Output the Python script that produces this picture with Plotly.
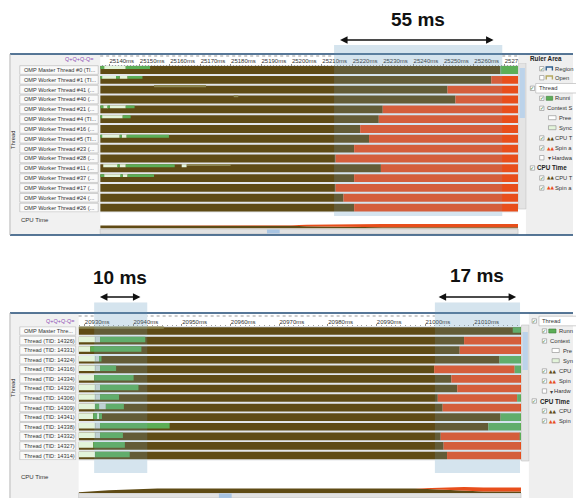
import plotly.graph_objects as go

# the page body has an 8px margin: the figure is sized/offset to fill the window
OFF = 8
W, H = 584 - OFF, 498 - OFF


def px(x):
    return (x - OFF) / W


def py(y):
    return 1 - (y - OFF) / H


# ---------------- DATA : top timeline (ms) ----------------
top_threads = [
    "OMP Master Thread #0 (TI...", "OMP Worker Thread #1 (TI...",
    "OMP Worker Thread #41 (...", "OMP Worker Thread #40 (...",
    "OMP Worker Thread #21 (...", "OMP Worker Thread #4 (TI...",
    "OMP Worker Thread #16 (...", "OMP Worker Thread #5 (TI...",
    "OMP Worker Thread #23 (...", "OMP Worker Thread #28 (...",
    "OMP Worker Thread #11 (...", "OMP Worker Thread #37 (...",
    "OMP Worker Thread #17 (...", "OMP Worker Thread #24 (...",
    "OMP Worker Thread #26 (...",
]
top_window = [25137.1, 25274.5]
top_ticks = list(range(25140, 25280, 10))
# time at which the CPU-time (brown) part ends for each thread
top_cpu_end = [25268.7, 25265.7, 25251.3, 25253.9, 25230.0, 25228.7, 25222.6,
               25225.5, 25220.6, 25214.5, 25229.4, 25220.6, 25214.5, 25217.1,
               25220.6]
# what follows: spin (red) or running (green)
top_tail = ["run", "spin", "spin", "spin", "spin", "spin", "spin", "spin",
            "spin", "spin", "spin", "spin", "spin", "spin", "spin"]
# running / synchronisation strips (row, start, end)
top_running = [
    (0, 25137.1, 25138.4), (0, 25145.5, 25153.5),
    (1, 25137.1, 25137.7), (1, 25142.3, 25143.5), (1, 25146.1, 25151.0),
    (4, 25137.1, 25138.1), (4, 25139.7, 25140.3), (4, 25145.5, 25148.4),
    (5, 25137.1, 25137.7), (5, 25144.5, 25147.1),
    (7, 25137.1, 25137.7), (7, 25143.5, 25144.2), (7, 25145.8, 25159.7),
    (10, 25142.9, 25143.5), (10, 25145.5, 25161.6),
    (11, 25137.1, 25138.4), (11, 25143.9, 25144.5), (11, 25146.1, 25154.8),
]
top_sync = [
    (0, 25138.4, 25145.5),
    (1, 25137.7, 25142.3), (1, 25143.5, 25146.1),
    (4, 25138.1, 25139.7), (4, 25140.3, 25145.5),
    (5, 25137.7, 25144.5),
    (7, 25137.7, 25143.5), (7, 25144.2, 25145.8),
    (10, 25138.1, 25142.9), (10, 25143.5, 25145.5), (10, 25163.9, 25165.5),
    (11, 25138.4, 25143.9), (11, 25144.5, 25146.1),
]
top_faint = [(2, 25154.8, 25171.9), (3, 25181.0, 25182.5), (10, 25165.5, 25180.0)]
top_cpu_t = [25137.1, 25190, 25200, 25205, 25215, 25230, 25274.5]
top_cpu_busy = [0.55, 0.55, 0.5, 0.4, 0.3, 0.25, 0.25]
top_cpu_spin = [0.0, 0.0, 0.1, 0.3, 0.45, 0.55, 0.55]
top_selection = [25214.0, 25269.3]

# ---------------- DATA : bottom timeline (ms) ----------------
bot_threads = [
    "OMP Master Thre...", "Thread (TID: 14326)", "Thread (TID: 14331)",
    "Thread (TID: 14324)", "Thread (TID: 14316)", "Thread (TID: 14334)",
    "Thread (TID: 14329)", "Thread (TID: 14306)", "Thread (TID: 14309)",
    "Thread (TID: 14341)", "Thread (TID: 14338)", "Thread (TID: 14332)",
    "Thread (TID: 14327)", "Thread (TID: 14314)",
]
bot_window = [20928.8, 21019.7]
bot_ticks = list(range(20930, 21020, 10))
bot_cpu_end = [21019.7, 21008.0, 21007.1, 21015.3, 21001.9, 21005.4, 21006.6,
               21002.6, 21003.6, 21015.5, 21013.0, 21003.2, 21003.8, 21004.5]
bot_spin = [
    (1, 21008.0, 21019.7), (2, 21007.1, 21019.7), (4, 21001.9, 21018.4),
    (5, 21005.4, 21019.7), (6, 21006.6, 21019.7), (7, 21002.6, 21018.9),
    (8, 21003.6, 21019.7), (11, 21003.2, 21019.5), (12, 21003.8, 21019.7),
    (13, 21004.5, 21019.7),
]
bot_run_tail = [
    (3, 21015.3, 21019.7), (4, 21018.4, 21019.7), (7, 21018.9, 21019.7),
    (9, 21015.5, 21019.7), (10, 21013.0, 21019.7), (11, 21019.5, 21019.7),
]
bot_sync = [
    (1, 20928.8, 20932.2), (2, 20928.8, 20931.2), (3, 20928.8, 20932.2),
    (4, 20928.8, 20932.2), (5, 20928.8, 20932.0), (6, 20928.8, 20932.2),
    (7, 20928.8, 20932.2), (8, 20928.8, 20932.2), (9, 20928.8, 20931.8),
    (9, 20932.6, 20933.0), (10, 20928.8, 20932.2), (11, 20928.8, 20932.2),
    (12, 20928.8, 20931.8), (13, 20928.8, 20932.2),
]
bot_preempt = [
    (1, 20932.2, 20933.2), (3, 20932.2, 20933.0), (4, 20932.2, 20933.2),
    (6, 20932.2, 20933.2), (7, 20932.2, 20933.2), (8, 20933.0, 20934.4),
    (10, 20932.2, 20933.2), (11, 20932.2, 20933.2),
]
bot_running = [
    (0, 21018.0, 21019.7),
    (1, 20933.2, 20942.5), (2, 20931.2, 20941.7), (3, 20933.0, 20933.5),
    (4, 20933.2, 20936.5), (5, 20932.0, 20940.1), (6, 20933.2, 20941.1),
    (7, 20933.2, 20937.1), (8, 20932.2, 20933.0), (8, 20934.4, 20938.1),
    (9, 20931.8, 20932.6), (9, 20933.0, 20933.6), (10, 20933.2, 20947.5),
    (11, 20933.2, 20937.9), (12, 20931.8, 20938.3), (13, 20932.2, 20939.3),
]
bot_faint = [(0, 20928.8, 20946.3)]
bot_cpu_t = [20928.8, 20935, 20945, 20998, 21003, 21008, 21012, 21019.7]
bot_cpu_busy = [0.1, 0.35, 0.55, 0.55, 0.45, 0.3, 0.2, 0.2]
bot_cpu_spin = [0.0, 0.0, 0.0, 0.0, 0.2, 0.45, 0.5, 0.5]
bot_selections = [[20932.0, 20942.9], [21002.0, 21019.5]]

# ---------------- styles ----------------
BROWN = "#5f4b15"
RED = "#e84e1b"
GREEN = "#5cae56"
SYNC = "#e3f4da"
FAINT = "#8c8450"
PREEMPT = "#cdd9d4"
NAVY = "#1f4a74"
UI_FONT = "Liberation Sans, Arial, sans-serif"
TXT = "#333333"
PANEL = "#efefef"

fig = go.Figure()


def bars(segs, color, xa, ya, width, offset):
    fig.add_trace(go.Bar(
        y=[s[0] for s in segs], base=[s[1] for s in segs],
        x=[s[2] - s[1] for s in segs], orientation="h",
        width=width, offset=offset,
        marker=dict(color=color, line=dict(width=0)),
        xaxis=xa, yaxis=ya, showlegend=False, hoverinfo="skip"))


# top panel bars
n_top = len(top_threads)
bars([(i, top_window[0], top_cpu_end[i]) for i in range(n_top)], BROWN, "x", "y", 0.8, -0.4)
bars([(i, top_cpu_end[i], top_window[1]) for i in range(n_top) if top_tail[i] == "spin"],
     RED, "x", "y", 0.8, -0.4)
bars([(i, top_cpu_end[i], top_window[1]) for i in range(n_top) if top_tail[i] == "run"],
     GREEN, "x", "y", 0.8, -0.4)
bars(top_faint, FAINT, "x", "y", 0.16, -0.4)
bars(top_sync, SYNC, "x", "y", 0.3, -0.4)
bars(top_running, GREEN, "x", "y", 0.3, -0.4)

# bottom panel bars
n_bot = len(bot_threads)
bars([(i, bot_window[0], bot_cpu_end[i]) for i in range(n_bot)], BROWN, "x2", "y2", 0.8, -0.4)
bars(bot_spin, RED, "x2", "y2", 0.8, -0.4)
bars(bot_run_tail, GREEN, "x2", "y2", 0.8, -0.4)
bars(bot_faint, FAINT, "x2", "y2", 0.16, -0.4)
bars(bot_sync, SYNC, "x2", "y2", 0.58, -0.4)
bars(bot_preempt, PREEMPT, "x2", "y2", 0.58, -0.4)
bars(bot_running, GREEN, "x2", "y2", 0.58, -0.4)

# CPU time area charts
for t, busy, spin, xa, ya, grp in [
        (top_cpu_t, top_cpu_busy, top_cpu_spin, "x", "y3", "a"),
        (bot_cpu_t, bot_cpu_busy, bot_cpu_spin, "x2", "y4", "b")]:
    fig.add_trace(go.Scatter(x=t, y=busy, stackgroup=grp, mode="lines",
                             line=dict(width=0, color=BROWN), fillcolor=BROWN,
                             xaxis=xa, yaxis=ya, showlegend=False, hoverinfo="skip"))
    fig.add_trace(go.Scatter(x=t, y=spin, stackgroup=grp, mode="lines",
                             line=dict(width=0, color=RED), fillcolor=RED,
                             xaxis=xa, yaxis=ya, showlegend=False, hoverinfo="skip"))

shapes = []
ann = []


def rect(x0, y0, x1, y1, fill, line=None, lw=0.6, layer="below"):
    shapes.append(dict(type="rect", xref="paper", yref="paper",
                       x0=px(x0), x1=px(x1), y0=py(y1), y1=py(y0),
                       fillcolor=fill, layer=layer,
                       line=dict(width=lw if line else 0, color=line or fill)))


def hline(x0, x1, y, color, w=1.5, dash="solid", layer="above"):
    shapes.append(dict(type="line", xref="paper", yref="paper",
                       x0=px(x0), x1=px(x1), y0=py(y), y1=py(y),
                       line=dict(color=color, width=w, dash=dash), layer=layer))


def text(x, y, s, size=6, color=TXT, anchor="left", bold=False, angle=0, family=UI_FONT):
    ann.append(dict(x=px(x), y=py(y), xref="paper", yref="paper",
                    text=f"<b>{s}</b>" if bold else s, showarrow=False,
                    xanchor=anchor, yanchor="middle", textangle=angle,
                    borderpad=0,
                    font=dict(size=size, color=color, family=family)))


def checkbox(x, y, checked=True):
    rect(x, y - 2.2, x + 4.4, y + 2.2, "#ffffff", "#8a8a8a", 0.6, layer="above")
    if checked:
        text(x + 2.2, y, "✓", size=5, color="#2e7d32", anchor="center",
             family="DejaVu Sans")


# ---------------- panel chrome ----------------
# top panel
rect(10, 54, 102, 235, "#f1f1f1")
rect(536, 54, 584, 235, PANEL)
rect(102, 65, 528, 212.5, "#e3e6ea")
rect(528.5, 63, 536, 209, "#e4e4e4", "#c2c2c2")
rect(529.5, 68, 535, 118, "#bcd3ea", layer="above")
rect(102, 229, 528, 234, "#e2e2e2", "#bdbdbd")
rect(272, 229.5, 285, 233.5, "#a8c4e2", layer="above")
hline(102, 528, 56, "#9a9a9a", 1, "dot", layer="below")
# ruler overflow hidden behind the side panel
rect(528.3, 54.8, 584, 62.9, PANEL, layer="above")
hline(10, 584, 54, NAVY, 1.6)
hline(10, 584, 235, NAVY, 1.6)
shapes.append(dict(type="line", xref="paper", yref="paper", x0=px(10), x1=px(10),
                   y0=py(235), y1=py(54), line=dict(color="#b8b8b8", width=1)))

# bottom panel
rect(10, 313, 80, 498, "#f1f1f1")
rect(539, 313, 584, 498, PANEL)
rect(80, 326, 531, 460.5, "#e3e6ea")
rect(531.5, 325, 539, 461, "#e4e4e4", "#c2c2c2")
rect(532.5, 332, 538, 370, "#bcd3ea", layer="above")
rect(80, 493, 531, 498, "#e2e2e2", "#bdbdbd")
rect(223, 493.5, 236, 498, "#a8c4e2", layer="above")
hline(80, 531, 316, "#9a9a9a", 1, "dot", layer="below")
hline(10, 584, 313, NAVY, 1.6)
shapes.append(dict(type="line", xref="paper", yref="paper", x0=px(10), x1=px(10),
                   y0=py(498), y1=py(313), line=dict(color="#b8b8b8", width=1)))

# thread label boxes (positioned through the row axes)
for names, yref, x0, x1 in [(top_threads, "y", 20, 100), (bot_threads, "y2", 20, 77)]:
    for i, name in enumerate(names):
        shapes.append(dict(type="rect", xref="paper", yref=yref,
                           x0=px(x0), x1=px(x1), y0=i - 0.44, y1=i + 0.44,
                           fillcolor="#fafafa", line=dict(color="#b3b3b3", width=0.6),
                           layer="above"))
        ann.append(dict(x=px(x0 + 2), y=i, xref="paper", yref=yref, text=name,
                        showarrow=False, xanchor="left", yanchor="middle",
                        font=dict(size=5.6, color=TXT, family=UI_FONT)))

# selections: light tint under the marks, weak tint over them
SEL_UNDER = "#e9f1f4"
SEL_OVER = "rgba(120,170,210,0.18)"
sel_list = [("x", top_selection, 216, 45)] + [("x2", s, 473, 302.5) for s in bot_selections]
for xref, sel, yb, yt in sel_list:
    for fill, layer in [(SEL_UNDER, "below"), (SEL_OVER, "above")]:
        shapes.append(dict(type="rect", xref=xref, yref="paper", x0=sel[0], x1=sel[1],
                           y0=py(yb), y1=py(yt), fillcolor=fill,
                           line=dict(width=0), layer=layer))

# measurement arrows and labels
for (xa, xb, y, label, ly) in [(348, 503, 40, "55 ms", 19),
                               (101, 143, 297, "10 ms", 277),
                               (447, 526, 297, "17 ms", 275)]:
    ann.append(dict(x=px(xb), y=py(y), xref="paper", yref="paper", ax=-(xb - xa), ay=0,
                    text="", showarrow=True, arrowside="end+start", arrowhead=2,
                    startarrowhead=2, arrowsize=1, startarrowsize=1, arrowwidth=1.5,
                    arrowcolor="#111111"))
    text((xa + xb) / 2, ly, label, size=19, color="#111111", anchor="center", bold=True)

# misc labels
text(13, 140, "Thread", size=5.8, angle=-90, anchor="center")
text(13, 388, "Thread", size=5.8, angle=-90, anchor="center")
text(20, 220, "CPU Time", size=6)
text(20, 477, "CPU Time", size=6)
text(97, 59, "Q+Q+Q-Q=", size=5.5, color="#8e4fb5", anchor="right")
text(77, 320.5, "Q+Q+Q-Q=", size=5.5, color="#8e4fb5", anchor="right")


def mountain(x, y, color):
    text(x, y, "▲▲", size=4.5, color=color, family="DejaVu Sans")


def bracket(x0, x1, y, color):
    shapes.append(dict(type="path", xref="paper", yref="paper", layer="above",
                       path=f"M {px(x0)},{py(y + 1.8)} L {px(x0)},{py(y - 1.7)} "
                            f"L {px(x1)},{py(y - 1.7)} L {px(x1)},{py(y + 1.8)}",
                       line=dict(color=color, width=1.4)))


LS = 5.8  # legend font size

# top legend
text(539.3, 58.7, "Ruler Area", size=6.3, bold=True, color="#222222")
checkbox(550, 68.7)
bracket(556.7, 563, 68.7, "#2f5f8f")
text(564.5, 68.7, "Region", size=LS)
checkbox(550, 77.7, False)
bracket(556.7, 563, 77.7, "#b5a960")
text(564.5, 77.7, "Open", size=LS)
checkbox(540.5, 88.3)
rect(546, 83.5, 590, 93, "#ffffff", "#b0b0b0", 0.6, layer="above")
text(548, 88.3, "Thread", size=LS)
checkbox(550, 98.3)
rect(556.7, 96.3, 563.3, 100.3, GREEN, "#3e7c3a", 0.6, layer="above")
text(565, 98.3, "Runni", size=LS)
checkbox(550, 108.3)
text(556.7, 108.3, "Context S", size=LS)
rect(559, 115.7, 566.7, 119.7, "#ffffff", "#8a8a8a", 0.6, layer="above")
text(568.5, 117.7, "Pree", size=LS)
rect(559, 125.7, 566.7, 129.7, SYNC, "#8a8a8a", 0.6, layer="above")
text(568.5, 127.7, "Sync", size=LS)
checkbox(550, 138)
mountain(556.5, 138, BROWN)
text(565, 138, "CPU T", size=LS)
checkbox(550, 148)
mountain(556.5, 148, RED)
text(565, 148, "Spin a", size=LS)
checkbox(550, 157.7, False)
text(557, 157.7, "▾", size=6, color="#444444", family="DejaVu Sans")
text(561.5, 157.7, "Hardwa", size=LS)
checkbox(540.5, 168)
text(546, 168, "CPU Time", size=6.3, bold=True, color="#222222")
checkbox(550, 178)
mountain(556.5, 178, BROWN)
text(565, 178, "CPU T", size=LS)
checkbox(550, 188)
mountain(556.5, 188, RED)
text(565, 188, "Spin a", size=LS)

# bottom legend
checkbox(542.3, 321)
rect(549.3, 316.2, 590, 325.8, "#ffffff", "#b0b0b0", 0.6, layer="above")
text(551.3, 321, "Thread", size=LS)
checkbox(552.7, 331)
rect(559.3, 329, 566.7, 333, GREEN, "#3e7c3a", 0.6, layer="above")
text(569, 331, "Runn", size=LS)
checkbox(552.7, 341)
text(559.3, 341, "Context", size=LS)
rect(562.7, 348.5, 570, 352.5, "#ffffff", "#8a8a8a", 0.6, layer="above")
text(572.5, 350.5, "Pre", size=LS)
rect(562.7, 358.7, 570, 362.7, SYNC, "#8a8a8a", 0.6, layer="above")
text(572.5, 360.7, "Syn", size=LS)
checkbox(552.7, 371)
mountain(559, 371, BROWN)
text(569, 371, "CPU", size=LS)
checkbox(552.7, 381)
mountain(559, 381, RED)
text(569, 381, "Spin", size=LS)
checkbox(552.7, 391, False)
text(559.3, 391, "▾", size=6, color="#444444", family="DejaVu Sans")
text(563.5, 391, "Hardw", size=LS)
checkbox(542.3, 401)
text(549.3, 401, "CPU Time", size=6.3, bold=True, color="#222222")
checkbox(552.7, 411)
mountain(559, 411, BROWN)
text(569, 411, "CPU", size=LS)
checkbox(552.7, 421)
mountain(559, 421, RED)
text(569, 421, "Spin", size=LS)

axis_common = dict(showgrid=False, zeroline=False, showline=False, fixedrange=True)

fig.update_layout(
    width=W, height=H, margin=dict(l=0, r=0, t=0, b=0),
    paper_bgcolor="#ffffff", plot_bgcolor="rgba(0,0,0,0)",
    barmode="overlay", showlegend=False,
    font=dict(family=UI_FONT, size=6, color=TXT),
    xaxis=dict(domain=[px(102), px(528)], range=top_window, anchor="free",
               position=py(65.5), side="top", tickmode="array", tickvals=top_ticks,
               ticktext=[f"{t}ms" for t in top_ticks], ticks="outside", ticklen=2,
               tickcolor="#8a8a8a", tickwidth=0.8, tickangle=0,
               ticklabelposition="outside right",
               tickfont=dict(size=6, color=TXT, family=UI_FONT),
               minor=dict(tickmode="linear", tick0=25140, dtick=1, ticks="outside",
                          ticklen=1, tickcolor="#a0a0a0", tickwidth=0.6),
               **axis_common),
    yaxis=dict(domain=[py(212.5), py(65.1)], range=[14.5, -0.5], anchor="x",
               visible=False, **axis_common),
    xaxis2=dict(domain=[px(80), px(531)], range=bot_window, anchor="free",
                position=py(326.2), side="top", tickmode="array", tickvals=bot_ticks,
                ticktext=[f"{t}ms" for t in bot_ticks], ticks="outside", ticklen=2,
                tickcolor="#8a8a8a", tickwidth=0.8, tickangle=0,
                ticklabelposition="outside right",
                tickfont=dict(size=6, color=TXT, family=UI_FONT),
                minor=dict(tickmode="linear", tick0=20930, dtick=1, ticks="outside",
                           ticklen=1, tickcolor="#a0a0a0", tickwidth=0.6),
                **axis_common),
    yaxis2=dict(domain=[py(460.3), py(326.2)], range=[13.5, -0.5], anchor="x2",
                visible=False, **axis_common),
    yaxis3=dict(domain=[py(228.5), py(223)], range=[0, 1], anchor="x",
                visible=False, **axis_common),
    yaxis4=dict(domain=[py(493), py(485)], range=[0, 1], anchor="x2",
                visible=False, **axis_common),
    shapes=shapes, annotations=ann,
)

fig.write_html("out.html")
